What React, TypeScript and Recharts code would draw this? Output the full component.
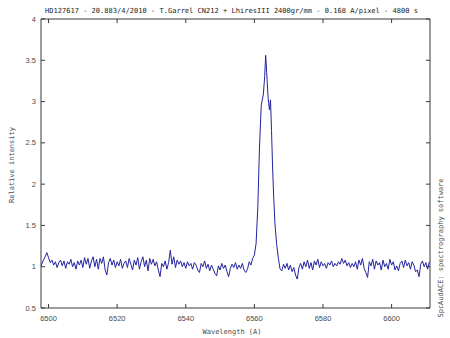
import { LineChart, Line, XAxis, YAxis } from 'recharts';

// wavelength (A) and relative intensity
const wavelengths = [
  6497.8, 6498.0, 6498.5, 6499.0, 6499.5, 6500.0, 6500.5, 6501.0, 6501.5, 6502.0, 6502.5,
  6503.0, 6503.5, 6504.0, 6504.5, 6505.0, 6505.5, 6506.0, 6506.5, 6507.0, 6507.5,
  6508.0, 6508.5, 6509.0, 6509.5, 6510.0, 6510.5, 6511.0, 6511.5, 6512.0, 6512.5,
  6513.0, 6513.5, 6514.0, 6514.5, 6515.0, 6515.5, 6516.0, 6516.5, 6517.0, 6517.5,
  6518.0, 6518.5, 6519.0, 6519.5, 6520.0, 6520.5, 6521.0, 6521.5, 6522.0, 6522.5,
  6523.0, 6523.5, 6524.0, 6524.5, 6525.0, 6525.5, 6526.0, 6526.5, 6527.0, 6527.5,
  6528.0, 6528.5, 6529.0, 6529.5, 6530.0, 6530.5, 6531.0, 6531.5, 6532.0, 6532.5,
  6533.0, 6533.5, 6534.0, 6534.5, 6535.0, 6535.5, 6536.0, 6536.5, 6537.0, 6537.5,
  6538.0, 6538.5, 6539.0, 6539.5, 6540.0, 6540.5, 6541.0, 6541.5, 6542.0, 6542.5,
  6543.0, 6543.5, 6544.0, 6544.5, 6545.0, 6545.5, 6546.0, 6546.5, 6547.0, 6547.5,
  6548.0, 6548.5, 6549.0, 6549.5, 6550.0, 6550.5, 6551.0, 6551.5, 6552.0, 6552.5,
  6553.0, 6553.5, 6554.0, 6554.5, 6555.0, 6555.5, 6556.0, 6556.5, 6557.0, 6557.5,
  6558.0, 6558.5, 6559.0, 6559.5, 6560.0, 6560.5, 6561.0, 6561.5, 6562.0, 6562.3,
  6562.6, 6563.0, 6563.3, 6563.6, 6564.0, 6564.4, 6564.7, 6565.0, 6565.3, 6565.6,
  6566.0, 6566.5, 6567.0,
  6567.5, 6568.0, 6568.5, 6569.0, 6569.5, 6570.0, 6570.5, 6571.0, 6571.5, 6572.0,
  6572.5, 6573.0, 6573.5, 6574.0, 6574.5, 6575.0, 6575.5, 6576.0, 6576.5, 6577.0,
  6577.5, 6578.0, 6578.5, 6579.0, 6579.5, 6580.0, 6580.5, 6581.0, 6581.5, 6582.0,
  6582.5, 6583.0, 6583.5, 6584.0, 6584.5, 6585.0, 6585.5, 6586.0, 6586.5, 6587.0,
  6587.5, 6588.0, 6588.5, 6589.0, 6589.5, 6590.0, 6590.5, 6591.0, 6591.5, 6592.0,
  6592.5, 6593.0, 6593.5, 6594.0, 6594.5, 6595.0, 6595.5, 6596.0, 6596.5, 6597.0,
  6597.5, 6598.0, 6598.5, 6599.0, 6599.5, 6600.0, 6600.5, 6601.0, 6601.5, 6602.0,
  6602.5, 6603.0, 6603.5, 6604.0, 6604.5, 6605.0, 6605.5, 6606.0, 6606.5, 6607.0,
  6607.5, 6608.0, 6608.5, 6609.0, 6609.5, 6610.0, 6610.5, 6611.0,
];

const intensity = [
  1.00, 1.03, 1.08, 1.12, 1.17, 1.11, 1.05, 1.08, 1.02, 1.06, 0.99,
  1.05, 1.08, 1.01, 1.07, 0.98, 1.06, 1.03, 1.09, 1.00, 1.05,
  0.97, 1.07, 1.02, 1.08, 0.99, 1.11, 1.03, 1.10, 0.98, 1.07,
  1.12, 1.00, 1.09, 0.97, 1.10, 1.04, 1.12, 0.96, 0.90, 1.05,
  1.10, 1.02, 1.08, 0.99, 1.06, 1.01, 1.09, 0.98, 1.04, 1.07,
  0.99, 1.10, 1.03, 0.96, 1.08, 1.02, 1.11, 0.97, 1.06, 1.12,
  1.00, 1.08, 0.95, 1.10, 1.03, 1.09, 1.01, 1.06, 0.96, 0.88,
  1.04, 1.00, 1.07, 0.97, 1.05, 1.20, 1.03, 1.12, 0.99, 1.08,
  1.03, 1.07, 1.00, 1.05, 0.98, 1.06, 1.01, 1.04, 0.97, 1.05,
  1.02, 0.96, 0.93, 1.04, 1.00, 1.07, 0.98, 1.03, 0.95, 1.02,
  0.97, 0.92, 0.89, 1.01, 0.96, 1.04, 0.98, 1.02, 0.94, 0.88,
  0.98, 1.03, 0.99, 1.05, 0.97, 1.02, 0.98, 1.04, 0.96, 0.93,
  0.97, 1.06, 1.02, 1.10, 1.14, 1.28, 1.72, 2.45, 2.95, 3.02,
  3.08, 3.30, 3.56, 3.35, 3.05, 2.90, 3.02, 2.65, 2.22, 1.88,
  1.52, 1.27, 1.10,
  0.97, 0.95, 1.03, 0.98, 1.04, 0.96, 1.02, 0.94, 0.99, 0.90,
  0.85, 0.99, 1.04, 0.97, 1.06, 1.00, 1.08, 0.98, 1.05, 0.96,
  1.07, 1.02, 1.09, 0.99, 1.06, 1.01, 1.04, 0.98, 1.05, 1.02,
  1.07, 1.00, 1.04, 1.01, 1.06, 1.03, 1.10, 1.04, 1.08, 1.01,
  1.05, 0.99, 1.04, 1.00, 1.06, 0.97, 1.08, 1.02, 1.10, 0.98,
  0.93, 0.87, 1.06, 1.01, 1.09, 0.97, 1.07, 1.02, 1.05, 0.96,
  1.08, 1.00, 1.04, 0.97, 1.09, 1.02, 1.06, 0.96, 1.01, 0.95,
  1.04, 1.07, 0.99, 1.08, 1.01, 1.05, 0.97, 1.06, 1.02, 0.94,
  0.96, 0.88, 1.03, 1.07, 1.00, 1.05, 0.97, 1.06,
];

const xTicks = [6500, 6520, 6540, 6560, 6580, 6600];
const yTicks = [0.5, 1, 1.5, 2, 2.5, 3, 3.5, 4];

const TITLE = 'HD127617 - 20.883/4/2010 - T.Garrel CN212 + LhiresIII 2400gr/mm - 0.168 A/pixel - 4800 s';

const data = wavelengths.map((w, i) => ({ w, v: intensity[i] }));

const AXIS = '#3a3a3a';
const LABEL = '#4a4a4a';
const tickFont = { fontFamily: '"Liberation Sans", Arial, sans-serif', fontSize: 7.5, fill: LABEL };
const monoFont = '"DejaVu Sans Mono", "Liberation Mono", monospace';

// gnuplot-style ticks: marks point into the plot
const BottomTick = ({ x, y, payload }: any) => (
  <g>
    <line x1={x} x2={x} y1={y} y2={y - 4} stroke={AXIS} />
    <text x={x} y={y + 13} textAnchor="middle" {...tickFont}>{payload.value}</text>
  </g>
);
const TopTick = ({ x, y }: any) => <line x1={x} x2={x} y1={y} y2={y + 4} stroke={AXIS} />;
const LeftTick = ({ x, y, payload }: any) => (
  <g>
    <line x1={x} x2={x + 4} y1={y} y2={y} stroke={AXIS} />
    <text x={x - 5} y={y} dy="0.35em" textAnchor="end" {...tickFont}>{payload.value}</text>
  </g>
);
const RightTick = ({ x, y }: any) => <line x1={x} x2={x - 4} y1={y} y2={y} stroke={AXIS} />;

export default function App() {
  return (
    <div style={{ position: 'absolute', left: 0, top: 0, width: 450, height: 338, background: '#fff' }}>
      <LineChart width={450} height={338} data={data} margin={{ top: 18, right: 19, bottom: 0, left: 0 }}>
        <XAxis
          xAxisId="b"
          dataKey="w"
          type="number"
          domain={[6497.8, 6611.2]}
          ticks={xTicks}
          allowDataOverflow
          height={30}
          tickSize={0}
          tickMargin={0}
          tickLine={false}
          stroke={AXIS}
          tick={<BottomTick />}
        />
        <XAxis
          xAxisId="t"
          orientation="top"
          dataKey="w"
          type="number"
          domain={[6497.8, 6611.2]}
          ticks={xTicks}
          allowDataOverflow
          height={1}
          tickSize={0}
          tickMargin={0}
          tickLine={false}
          stroke={AXIS}
          tick={<TopTick />}
        />
        <YAxis
          yAxisId="l"
          type="number"
          domain={[0.5, 4]}
          ticks={yTicks}
          allowDataOverflow
          width={41}
          tickSize={0}
          tickMargin={0}
          tickLine={false}
          stroke={AXIS}
          tick={<LeftTick />}
        />
        <YAxis
          yAxisId="r"
          orientation="right"
          type="number"
          domain={[0.5, 4]}
          ticks={yTicks}
          allowDataOverflow
          width={1}
          tickSize={0}
          tickMargin={0}
          tickLine={false}
          stroke={AXIS}
          tick={<RightTick />}
        />
        <Line
          xAxisId="b"
          yAxisId="l"
          dataKey="v"
          type="linear"
          stroke="#2323a0"
          strokeWidth={1}
          dot={false}
          isAnimationActive={false}
        />
      </LineChart>
      <svg width={450} height={338} style={{ position: 'absolute', left: 0, top: 0, pointerEvents: 'none' }}>
        <text x={45} y={13} fontFamily={monoFont} fontSize={7} fill="#222" textLength={373} lengthAdjust="spacingAndGlyphs">
          {TITLE}
        </text>
        <text x={232} y={334} textAnchor="middle" fontFamily={monoFont} fontSize={7} fill={LABEL}>
          Wavelength (A)
        </text>
        <text
          transform="translate(14,165) rotate(-90)"
          textAnchor="middle"
          fontFamily={monoFont}
          fontSize={7}
          fill={LABEL}
        >
          Relative intensity
        </text>
        <text
          transform="translate(443,248) rotate(-90)"
          textAnchor="middle"
          fontFamily={monoFont}
          fontSize={7}
          fill={LABEL}
        >
          SpcAudACE: spectrography software
        </text>
      </svg>
    </div>
  );
}
